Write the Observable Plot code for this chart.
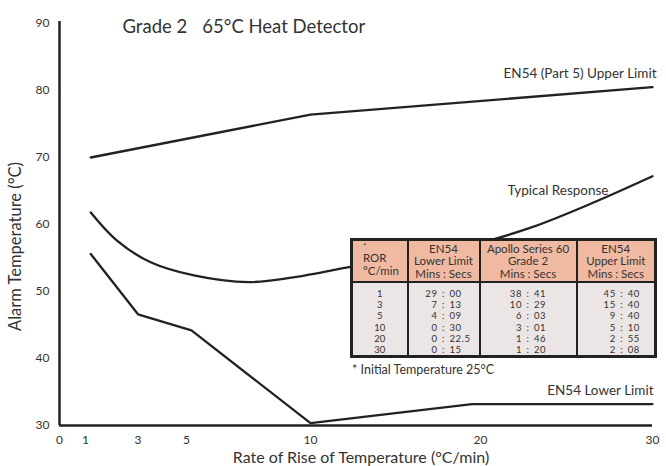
<!DOCTYPE html>
<html>
<head>
<meta charset="utf-8">
<script src="https://cdn.jsdelivr.net/npm/d3@7"></script>
<script src="https://cdn.jsdelivr.net/npm/@observablehq/plot@0.6"></script>
<style>
  body { margin: 0; background: #fff; }
  #wrap { position: relative; width: 666px; height: 466px; overflow: hidden; font-family: Lato, "Open Sans", sans-serif; color: #333; }
  #wrap svg { position: absolute; left: 0; top: 0; }
  #tbl { position: absolute; left: 350px; top: 238px; width: 304px; height: 120px; border-collapse: collapse; border: 3px solid #222; box-sizing: border-box; table-layout: fixed; }
  #tbl th { background: #f0b9a2; border: 2px solid #222; font-weight: normal; font-size: 11.5px; line-height: 12.5px; padding: 1px 0 0 0; color: #333; height: 39px; vertical-align: middle; white-space: nowrap; }
  #tbl th.first { text-align: left; padding-left: 10px; vertical-align: top; padding-top: 0; }
  #tbl th.first .star { font-size: 8px; line-height: 11px; }
  #tbl td { background: #ece5e5; border: 2px solid #222; font-size: 9.5px; line-height: 11.2px; vertical-align: top; padding: 5px 0 0 0; color: #333; }
  #tbl td .r { display: flex; letter-spacing: 0.6px; }
  #tbl td .m { flex: 1; text-align: right; }
  #tbl td .c { width: 12px; text-align: center; }
  #tbl td .s { flex: 1; text-align: left; }
  #tbl td.plain { text-align: center; }
  #note { position: absolute; left: 352px; top: 362px; font-size: 12.5px; color: #333; }
</style>
</head>
<body>
<div id="wrap"></div>
<script>
// ---- data ----
const xTicks = [0, 1, 3, 5, 10, 20, 30];
const yTicks = [30, 40, 50, 60, 70, 80, 90];

const upperX = [1.2, 10, 30];
const upperY = [70.0, 76.4, 80.5];

const typicalX = [1.2, 2.2, 3.5, 5.3, 7.5, 9.3, 12.4, 16.0, 20.0, 23.0, 26.5, 30.0];
const typicalY = [61.8, 57.6, 54.4, 52.4, 51.4, 52.1, 53.7, 55.4, 57.3, 59.6, 63.2, 67.2];

const lowerX = [1.2, 3, 5.2, 10, 19.5, 30];
const lowerY = [55.6, 46.6, 44.2, 30.35, 33.2, 33.2];

const titleText = "Grade 2\u2003\u200A65°C Heat Detector";
const xLabel = "Rate of Rise of Temperature (°C/min)";
const yLabel = "Alarm Temperature (°C)";
const seriesLabels = ["EN54 (Part 5) Upper Limit", "Typical Response", "EN54 Lower Limit"];
const noteText = "* Initial Temperature 25°C";

const tableHeaders = [["*", "ROR", "°C/min"], ["EN54", "Lower Limit", "Mins : Secs"], ["Apollo Series 60", "Grade 2", "Mins : Secs"], ["EN54", "Upper Limit", "Mins : Secs"]];
const rorCol = ["1", "3", "5", "10", "20", "30"];
const en54LowerCol = ["29 : 00", "7 : 13", "4 : 09", "0 : 30", "0 : 22.5", "0 : 15"];
const apolloCol = ["38 : 41", "10 : 29", "6 : 03", "3 : 01", "1 : 46", "1 : 20"];
const en54UpperCol = ["45 : 40", "15 : 40", "9 : 40", "5 : 10", "2 : 55", "2 : 08"];

// ---- build ----
const toPts = (xs, ys) => xs.map((x, i) => ({x, y: ys[i]}));
const upper = toPts(upperX, upperY);
const typical = toPts(typicalX, typicalY);
const lower = toPts(lowerX, lowerY);

const ink = "#222";
const txt = "#333";
const chart = Plot.plot({
  width: 666,
  height: 466,
  marginLeft: 59,
  marginRight: 14,
  marginTop: 23,
  marginBottom: 41,
  style: {fontFamily: "Lato, 'Open Sans', sans-serif", color: txt, background: "transparent"},
  x: {type: "linear", domain: xTicks, range: [59, 85, 137.5, 186, 310, 480, 652]},
  y: {domain: [30, 90]},
  marks: [
    Plot.axisX({ticks: xTicks, tickSize: 0, tickPadding: 10, fontSize: 12, label: null, tickFormat: d => String(d)}),
    Plot.axisY({ticks: yTicks, tickSize: 0, tickPadding: 10, fontSize: 12, label: null}),
    Plot.ruleY([30], {x1: 0, x2: 30, stroke: ink, strokeWidth: 2.5}),
    Plot.ruleX([0], {y1: 30, y2: 90.3, stroke: ink, strokeWidth: 2.5}),
    Plot.line(upper, {x: "x", y: "y", stroke: ink, strokeWidth: 2.3}),
    Plot.line(typical, {x: "x", y: "y", stroke: ink, strokeWidth: 2.3, curve: "catmull-rom"}),
    Plot.line(lower, {x: "x", y: "y", stroke: ink, strokeWidth: 2.3}),
    Plot.text([titleText], {frameAnchor: "top-left", dx: 63, dy: -4, textAnchor: "start", fontSize: 18.5, fill: txt}),
    Plot.text([seriesLabels[0]], {frameAnchor: "top-right", dx: 4, dy: 50, textAnchor: "end", lineAnchor: "middle", fontSize: 13.5, fill: txt}),
    Plot.text([seriesLabels[1]], {frameAnchor: "top-right", dx: -44, dy: 167, textAnchor: "end", lineAnchor: "middle", fontSize: 13.5, fill: txt}),
    Plot.text([seriesLabels[2]], {frameAnchor: "bottom-right", dx: 1, dy: -35, textAnchor: "end", lineAnchor: "middle", fontSize: 13.5, fill: txt}),
    Plot.text([yLabel], {frameAnchor: "left", dx: -44, dy: 22, rotate: -90, textAnchor: "middle", lineAnchor: "middle", fontSize: 16.5, fill: txt}),
    Plot.text([xLabel], {frameAnchor: "bottom", dx: 5, dy: 32.5, textAnchor: "middle", lineAnchor: "middle", fontSize: 16, fill: txt})
  ]
});

const wrap = document.getElementById("wrap");
wrap.appendChild(chart);

// table
const tbl = document.createElement("table");
tbl.id = "tbl";
const colW = [56, 72, 97, 79];
const cg = document.createElement("colgroup");
colW.forEach(w => { const c = document.createElement("col"); c.style.width = w + "px"; cg.appendChild(c); });
tbl.appendChild(cg);
const hr = document.createElement("tr");
tableHeaders.forEach((lines, i) => {
  const th = document.createElement("th");
  if (i === 0) {
    th.className = "first";
    th.innerHTML = `<div class="star">${lines[0]}</div><div>${lines[1]}</div><div>${lines[2]}</div>`;
  } else {
    th.innerHTML = lines.map(l => `<div>${l}</div>`).join("");
  }
  hr.appendChild(th);
});
tbl.appendChild(hr);
const br = document.createElement("tr");
const rorTd = document.createElement("td");
rorTd.className = "plain";
rorTd.innerHTML = rorCol.map(v => `<div>${v}</div>`).join("");
br.appendChild(rorTd);
[en54LowerCol, apolloCol, en54UpperCol].forEach((col, ci) => {
  const td = document.createElement("td");
  if (ci === 2) td.style.paddingLeft = "12px";
  td.innerHTML = col.map(v => {
    const [m, s] = v.split(" : ");
    return `<div class="r"><span class="m">${m}</span><span class="c">:</span><span class="s">${s}</span></div>`;
  }).join("");
  br.appendChild(td);
});
tbl.appendChild(br);
wrap.appendChild(tbl);

const note = document.createElement("div");
note.id = "note";
note.textContent = noteText;
wrap.appendChild(note);
</script>
</body>
</html>
